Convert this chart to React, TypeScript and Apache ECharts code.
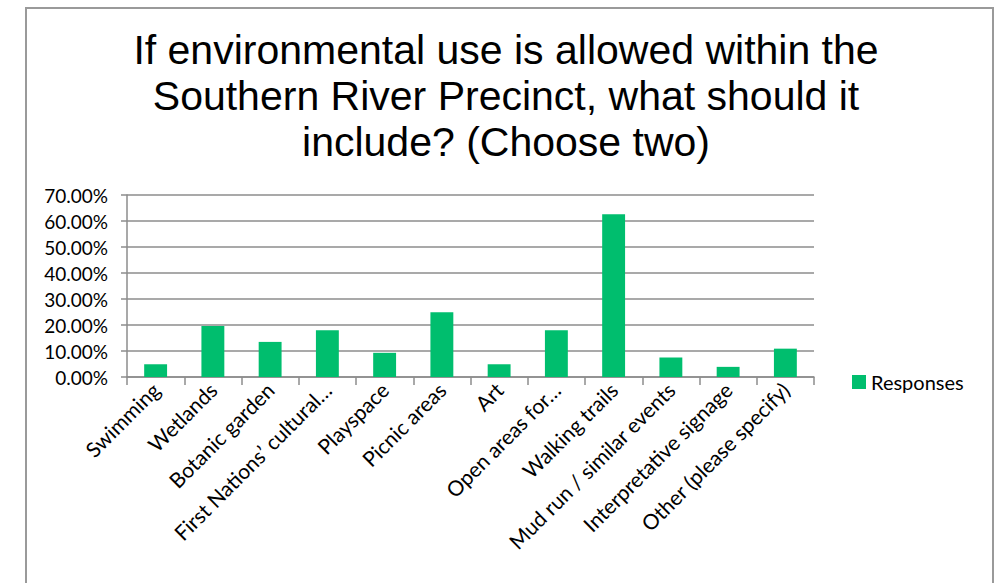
import React, { useEffect, useRef } from "react";
import * as echarts from "echarts";

const categories = [
  "Swimming",
  "Wetlands",
  "Botanic garden",
  "First Nations’ cultural…",
  "Playspace",
  "Picnic areas",
  "Art",
  "Open areas for…",
  "Walking trails",
  "Mud run / similar events",
  "Interpretative signage",
  "Other (please specify)",
];
const responses = [0.049, 0.196, 0.135, 0.18, 0.093, 0.249, 0.049, 0.18, 0.626, 0.075, 0.039, 0.109];
const titleLines = [
  "If environmental use is allowed within the",
  "Southern River Precinct, what should it",
  "include? (Choose two)",
];
const seriesName = "Responses";

export default function App() {
  const ref = useRef<HTMLDivElement>(null);
  useEffect(() => {
    if (!ref.current) return;
    const chart = echarts.init(ref.current, undefined, { renderer: "svg" });
    const labelFont = "Lato, 'Open Sans', sans-serif";
    chart.setOption({
      animation: false,
      backgroundColor: "#fff",
      title: {
        text: titleLines.join("\n"),
        left: 506,
        top: 27,
        padding: 0,
        textAlign: "center",
        textStyle: {
          fontFamily: "'Liberation Sans', Arial, sans-serif",
          fontSize: 41,
          fontWeight: "normal",
          lineHeight: 46,
          color: "#000",
        },
      },
      graphic: [
        {
          type: "rect",
          shape: { x: 26, y: 8, width: 967, height: 620 },
          style: { fill: "none", stroke: "#9a9a9a", lineWidth: 2 },
          silent: true,
        },
      ],
      legend: {
        data: [seriesName],
        left: 847,
        top: 367,
        icon: "rect",
        itemWidth: 14,
        itemHeight: 14,
        itemGap: 5,
        textStyle: { fontFamily: labelFont, fontSize: 20, color: "#000" },
      },
      grid: { left: 127, right: 186, top: 195, bottom: 206, containLabel: false },
      xAxis: {
        type: "category",
        data: categories,
        axisLine: { show: true, lineStyle: { color: "#8c8c8c", width: 1.5 } },
        axisTick: { show: true, length: 8, lineStyle: { color: "#8c8c8c", width: 1.5 } },
        axisLabel: {
          interval: 0,
          rotate: 45,
          margin: 9,
          fontFamily: labelFont,
          fontSize: 21,
          color: "#000",
        },
      },
      yAxis: {
        type: "value",
        min: 0,
        max: 0.7,
        interval: 0.1,
        axisLine: { show: true, lineStyle: { color: "#8c8c8c", width: 1.5 } },
        axisTick: { show: true, length: 6, lineStyle: { color: "#8c8c8c", width: 1.5 } },
        splitLine: { show: true, lineStyle: { color: "#8c8c8c", width: 1.5 } },
        axisLabel: {
          margin: 19,
          fontFamily: labelFont,
          fontSize: 19,
          color: "#000",
          formatter: (v: number) => (v * 100).toFixed(2) + "%",
        },
      },
      series: [
        {
          name: seriesName,
          type: "bar",
          data: responses,
          barCategoryGap: "60%",
          itemStyle: { color: "#00BE6E" },
        },
      ],
    });
    return () => chart.dispose();
  }, []);
  return (
    <div
      ref={ref}
      style={{ position: "fixed", left: 0, top: 0, width: 1000, height: 583 }}
    />
  );
}
